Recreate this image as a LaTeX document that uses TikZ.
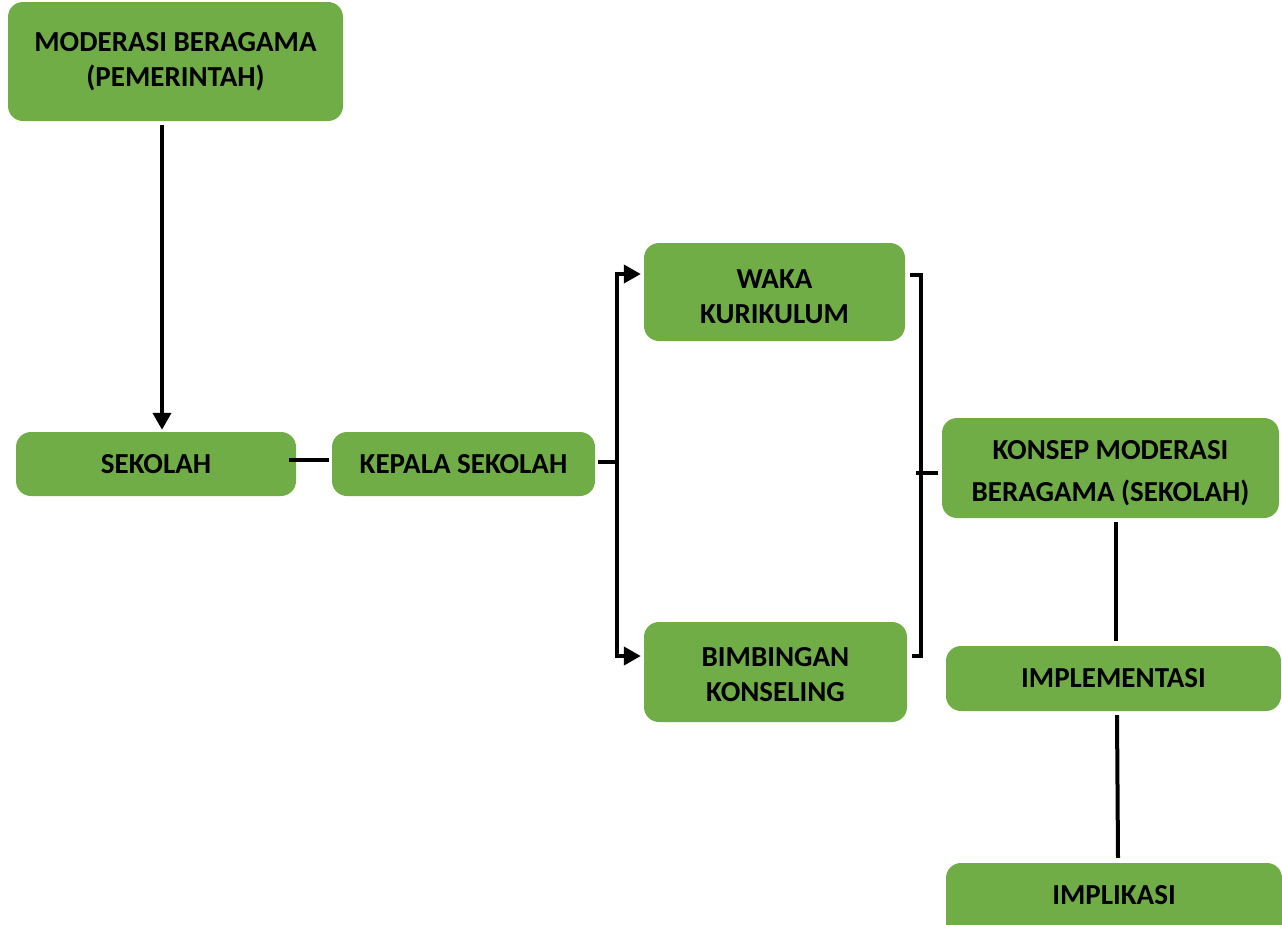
\documentclass[tikz,border=0pt]{standalone}
\usepackage{fontspec}
\setmainfont{Carlito}
\usetikzlibrary{arrows.meta}
\definecolor{boxgreen}{HTML}{70AD47}
\tikzset{
  gbox/.style={fill=boxgreen, draw=none, rounded corners=15pt, inner sep=0pt},
  gtext/.style={align=center, font=\fontsize{29}{35}\selectfont\bfseries, text=black, inner sep=0pt},
  conn/.style={draw=black, line width=4pt},
  arr/.style={conn, -{Triangle[length=17pt,width=18pt]}}
}
\begin{document}
\begin{tikzpicture}[x=1pt,y=-1pt]
\useasboundingbox (0,0) rectangle (1282,924);
\clip (0,0) rectangle (1282,924);
\node[gbox, minimum width=335pt, minimum height=119pt] (mod) at (175.5,61.5) {};
\node[gtext] (modt) at (175.5,62) {MODERASI BERAGAMA\\(PEMERINTAH)};
\node[gbox, minimum width=280pt, minimum height=64pt] (sek) at (156,464) {};
\node[gtext] (sekt) at (156,464) {SEKOLAH};
\node[gbox, minimum width=263pt, minimum height=64pt] (kep) at (463.5,464) {};
\node[gtext] (kept) at (463.5,464) {KEPALA SEKOLAH};
\node[gbox, minimum width=261pt, minimum height=98pt] (waka) at (774.5,292) {};
\node[gtext] (wakat) at (774.5,297) {WAKA\\KURIKULUM};
\node[gbox, minimum width=263pt, minimum height=100pt] (bk) at (775.5,672) {};
\node[gtext] (bkt) at (775.5,675) {BIMBINGAN\\KONSELING};
\node[gbox, minimum width=337pt, minimum height=100pt] (kon) at (1110.5,468) {};
\node[gtext, font=\fontsize{29}{42}\selectfont\bfseries] (kont) at (1110.5,473) {KONSEP MODERASI\\BERAGAMA (SEKOLAH)};
\node[gbox, minimum width=335pt, minimum height=65pt] (imp) at (1113.5,678.5) {};
\node[gtext] (impt) at (1113.5,678) {IMPLEMENTASI};
\node[gbox, minimum width=336pt, minimum height=77pt] (impl) at (1114,901.5) {};
\node[gtext] (implt) at (1114,895) {IMPLIKASI};

% top arrow
\draw[arr] ([xshift=-13.5pt,yshift=-4pt]mod.south) -- ([xshift=6pt,yshift=2pt]sek.north);
% sekolah - kepala
\draw[conn] ([xshift=-7pt,yshift=4pt]sek.east) -- ([xshift=-3pt,yshift=4pt]kep.west);
% left bracket
\coordinate (j1) at (617,462);
\coordinate (t1) at (617,274);
\coordinate (b1) at (617,656);
\draw[conn] ([xshift=3pt,yshift=2pt]kep.east) -- (j1);
\draw[conn] ([yshift=1pt]t1) -- ([yshift=-2pt]b1);
\draw[arr] ([xshift=-2pt]t1) -- ([xshift=-3pt]t1 -| waka.west);
\draw[arr] ([xshift=-2pt]b1) -- ([xshift=-3pt]b1 -| bk.west);
% right bracket
\coordinate (t2) at (921,275);
\coordinate (b2) at (921,656);
\coordinate (m2) at (916,473);
\draw[conn] ([xshift=5pt]t2 -| waka.east) -- (t2) -- (b2) -- ([xshift=5pt]b2 -| bk.east);
\draw[conn] (m2) -- ([xshift=-4pt]m2 -| kon.west);
% right column
\draw[conn] ([xshift=5.5pt,yshift=-4pt]kon.south) -- ([xshift=2.5pt,yshift=5pt]imp.north);
\draw[conn] ([xshift=3.5pt,yshift=-4pt]imp.south) -- ([xshift=4pt,yshift=5pt]impl.north);
\end{tikzpicture}
\end{document}
